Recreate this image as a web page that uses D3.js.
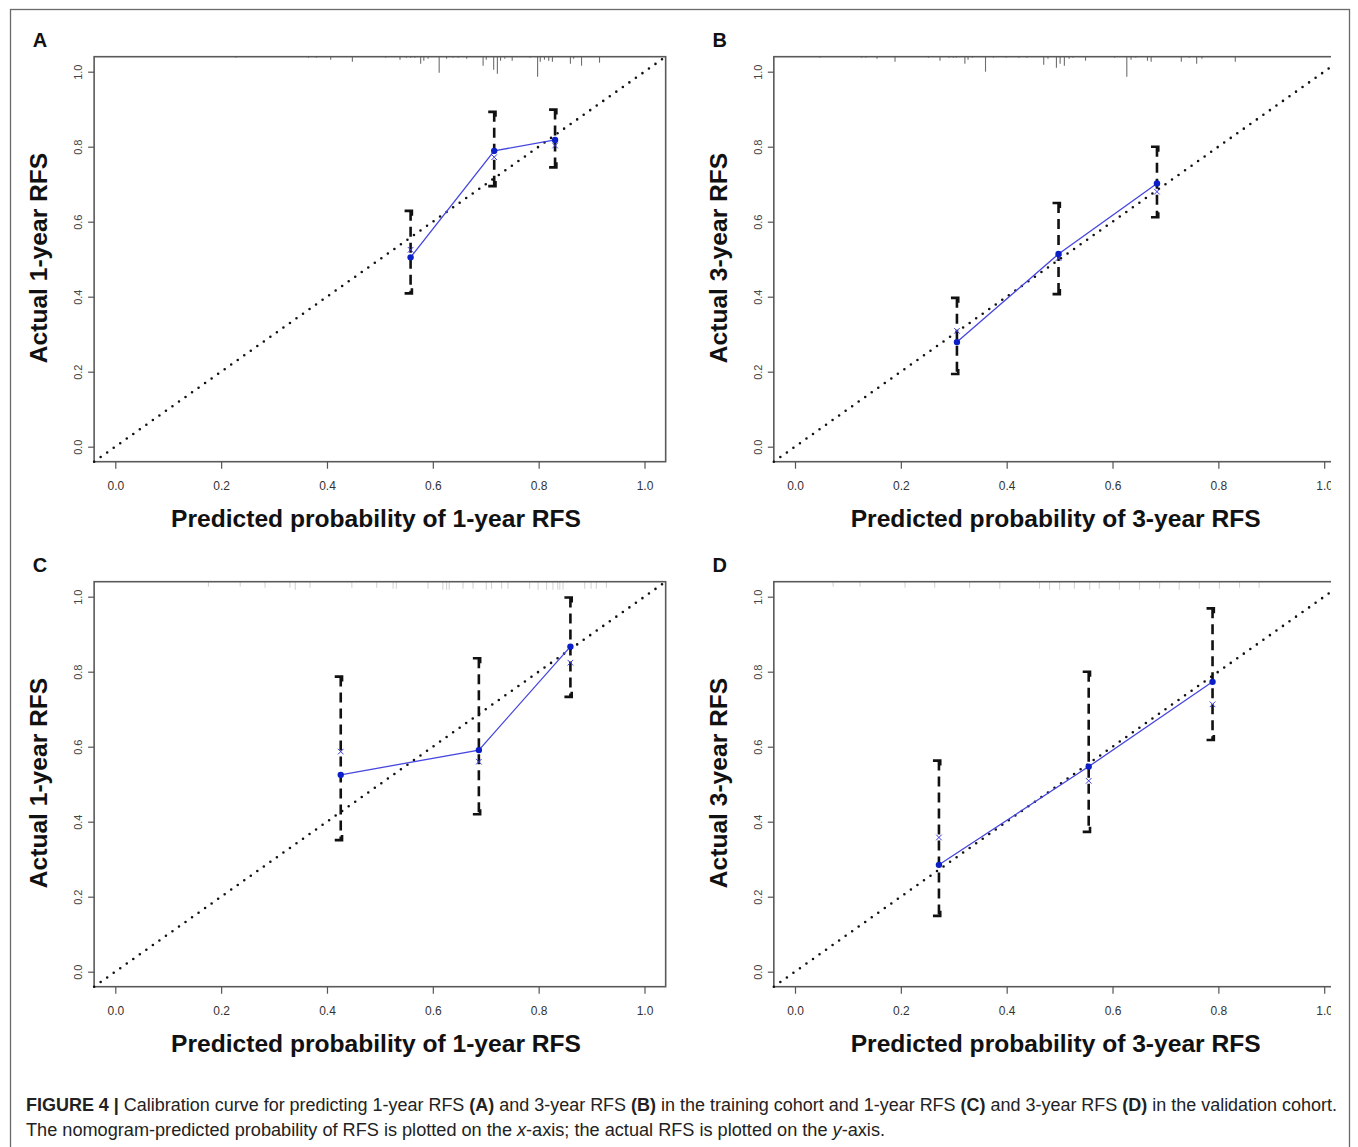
<!DOCTYPE html>
<html>
<head>
<meta charset="utf-8">
<script src="https://cdn.jsdelivr.net/npm/d3@7"></script>
<style>
  body { margin: 0; background: #fff; }
  svg { display: block; }
</style>
</head>
<body>
<div id="viz-container"></div>
<script>
// ticks shared by all four panels
let xTicks = [0, 0.2, 0.4, 0.6, 0.8, 1.0];
let yTicks = [0, 0.2, 0.4, 0.6, 0.8, 1.0];

// panel A: training cohort, 1-year RFS
let predA = [0.558, 0.716, 0.831];
let obsA  = [0.505, 0.789, 0.818];
let corrA = [0.525, 0.772, 0.803];
let loA   = [0.409, 0.695, 0.745];
let hiA   = [0.629, 0.893, 0.899];
let rugXA = [0.228, 0.365, 0.380, 0.407, 0.448, 0.511, 0.538, 0.550, 0.558, 0.566, 0.577, 0.583, 0.591,
             0.612, 0.626, 0.638, 0.648, 0.664, 0.695, 0.701, 0.715, 0.722, 0.728, 0.736, 0.750, 0.784,
             0.798, 0.803, 0.811, 0.819, 0.826, 0.860, 0.866, 0.881, 0.915];
let rugNA = [1, 1, 1, 3, 5, 1, 3, 1, 1, 1, 7, 4, 2,
             16, 2, 1, 1, 2, 9, 3, 13, 17, 4, 2, 4, 1,
             20, 5, 3, 4, 5, 7, 2, 9, 6];

// panel B: training cohort, 3-year RFS
let predB = [0.306, 0.498, 0.684];
let obsB  = [0.279, 0.514, 0.702];
let corrB = [0.309, 0.503, 0.680];
let loB   = [0.194, 0.407, 0.612];
let hiB   = [0.397, 0.650, 0.800];
let rugXB = [0.047, 0.126, 0.134, 0.155, 0.189, 0.252, 0.274, 0.291, 0.299, 0.305, 0.321, 0.327, 0.335,
             0.360, 0.375, 0.399, 0.423, 0.438, 0.470, 0.478, 0.494, 0.501, 0.509, 0.518, 0.525, 0.549,
             0.604, 0.627, 0.635, 0.644, 0.666, 0.673, 0.730, 0.745, 0.759, 0.769, 0.832];
let rugNB = [1, 1, 1, 2, 5, 1, 4, 1, 1, 1, 7, 3, 1,
             15, 1, 1, 1, 1, 8, 2, 11, 7, 9, 2, 1, 4,
             1, 20, 3, 1, 4, 5, 5, 1, 7, 2, 5];

// panel C: validation cohort, 1-year RFS
let predC = [0.426, 0.687, 0.860];
let obsC  = [0.525, 0.591, 0.867];
let corrC = [0.587, 0.560, 0.824];
let loC   = [0.351, 0.420, 0.733];
let hiC   = [0.787, 0.836, 0.998];
let rugXC = [0.176, 0.236, 0.283, 0.330, 0.340, 0.368, 0.447, 0.494, 0.525, 0.531, 0.591, 0.619, 0.626,
             0.631, 0.657, 0.676, 0.701, 0.711, 0.730, 0.742, 0.783, 0.799, 0.815, 0.827, 0.836, 0.840,
             0.846, 0.887, 0.899, 0.909, 0.928];
let rugNC = [5, 5, 6, 6, 8, 6, 6, 6, 7, 7, 7, 8, 8,
             8, 7, 7, 8, 7, 7, 7, 7, 8, 8, 8, 8, 8,
             8, 7, 7, 7, 6];

// panel D: validation cohort, 3-year RFS
let predD = [0.272, 0.555, 0.789];
let obsD  = [0.285, 0.547, 0.773];
let corrD = [0.358, 0.509, 0.713];
let loD   = [0.149, 0.373, 0.618];
let hiD   = [0.563, 0.800, 0.969];
let rugXD = [0.072, 0.123, 0.208, 0.264, 0.330, 0.387, 0.462, 0.481, 0.500, 0.528, 0.557, 0.575, 0.613,
             0.651, 0.689, 0.726, 0.764, 0.802, 0.840, 0.877];
let rugND = [5, 5, 6, 6, 6, 7, 7, 8, 8, 7, 8, 7, 8,
             8, 7, 8, 7, 7, 6, 6];

let W = 1358, H = 1147;

let viz = d3.select("#viz-container")
  .append("svg")
  .attr("width", W)
  .attr("height", H)
  .style("font-family", "'Liberation Sans', Arial, sans-serif");

viz.append("rect").attr("width", W).attr("height", H).attr("fill", "#fff");

// right-hand panels are cut off in the original image
viz.append("clipPath").attr("id", "cutRight")
  .append("rect").attr("x", 0).attr("y", 0).attr("width", 1331).attr("height", H);

// outer figure border
viz.append("rect")
  .attr("x", 10.5).attr("y", 9.5)
  .attr("width", 1339).attr("height", 1160)
  .attr("fill", "none").attr("stroke", "#6a6a6a").attr("stroke-width", 1.3);

function drawPanel(cfg) {
  let outer = viz.append("g");
  if (cfg.clip) outer.attr("clip-path", "url(#cutRight)");
  let g = outer.append("g").attr("transform", "translate(" + cfg.ox + "," + cfg.oy + ")");

  let x = d3.scaleLinear().domain([0, 1]).range([115.3, 644.5]);
  let y = d3.scaleLinear().domain([0, 1]).range([446.7, 71.7]);
  let rugLen = d3.scaleLinear().domain([0, 20]).range([0, 20]);

  // rug of predicted risk along the top
  let rug = cfg.rugX.map(function(v, i) { return { p: v, n: cfg.rugN[i] }; });
  g.selectAll("line.rug").data(rug).enter().append("line")
    .attr("class", "rug")
    .attr("x1", function(d) { return x(d.p); })
    .attr("x2", function(d) { return x(d.p); })
    .attr("y1", y(1.04))
    .attr("y2", function(d) { return y(1.04) + rugLen(d.n); })
    .attr("stroke", cfg.rugColor)
    .attr("stroke-width", 1.1);

  // frame
  g.append("rect")
    .attr("x", x(-0.04)).attr("y", y(1.04))
    .attr("width", x(1.04) - x(-0.04)).attr("height", y(-0.04) - y(1.04))
    .attr("fill", "none").attr("stroke", "#5a5a5a").attr("stroke-width", 1.6);

  // x axis
  let xa = g.append("g")
    .attr("transform", "translate(0," + y(-0.04) + ")")
    .call(d3.axisBottom(x).tickValues(xTicks).tickSize(7).tickPadding(13).tickFormat(d3.format(".1f")));
  xa.select(".domain").remove();
  xa.selectAll("line").attr("stroke", "#555").attr("stroke-width", 1.2);
  xa.selectAll("text")
    .attr("fill", "#333")
    .style("font-family", "'Liberation Sans Narrow', 'Arial Narrow', sans-serif")
    .style("font-size", "12px");

  // y axis with rotated labels
  let ya = g.append("g")
    .attr("transform", "translate(" + x(-0.04) + ",0)")
    .call(d3.axisLeft(y).tickValues(yTicks).tickSize(6).tickFormat(d3.format(".1f")));
  ya.select(".domain").remove();
  ya.selectAll("line").attr("stroke", "#555").attr("stroke-width", 1.2);
  ya.selectAll("text")
    .attr("x", null).attr("dy", null)
    .attr("transform", "translate(-12,0) rotate(-90)")
    .attr("text-anchor", "middle")
    .attr("fill", "#444")
    .style("font-size", "11px");

  // ideal reference line
  g.append("line")
    .attr("x1", x(-0.04)).attr("y1", y(-0.04))
    .attr("x2", x(1.04)).attr("y2", y(1.04))
    .attr("stroke", "#111").attr("stroke-width", 2.6)
    .attr("stroke-linecap", "round")
    .attr("stroke-dasharray", "0,8");

  let pts = cfg.pred.map(function(p, i) {
    return { p: p, o: cfg.obs[i], c: cfg.corr[i], lo: cfg.lo[i], hi: cfg.hi[i] };
  });

  // error bars
  g.selectAll("line.bar").data(pts).enter().append("line")
    .attr("class", "bar")
    .attr("x1", function(d) { return x(d.p); })
    .attr("x2", function(d) { return x(d.p); })
    .attr("y1", function(d) { return y(d.hi); })
    .attr("y2", function(d) { return y(d.lo); })
    .attr("stroke", "#111").attr("stroke-width", 2.6)
    .attr("stroke-dasharray", "10,6");
  g.selectAll("path.capHi").data(pts).enter().append("path")
    .attr("d", function(d) { return "M" + (x(d.p) - 6) + "," + y(d.hi) + "H" + (x(d.p) + 1.3) + "V" + (y(d.hi) + 5); })
    .attr("fill", "none").attr("stroke", "#111").attr("stroke-width", 2.6);
  g.selectAll("path.capLo").data(pts).enter().append("path")
    .attr("d", function(d) { return "M" + (x(d.p) - 6) + "," + y(d.lo) + "H" + (x(d.p) + 1.3) + "V" + (y(d.lo) - 5); })
    .attr("fill", "none").attr("stroke", "#111").attr("stroke-width", 2.6);

  // observed calibration line
  let line = d3.line().x(function(d) { return x(d.p); }).y(function(d) { return y(d.o); });
  g.append("path").datum(pts)
    .attr("d", line)
    .attr("fill", "none").attr("stroke", "#4646e0").attr("stroke-width", 1.3);

  // bias-corrected estimates
  g.selectAll("path.xmark").data(pts).enter().append("path")
    .attr("transform", function(d) { return "translate(" + x(d.p) + "," + y(d.c) + ")"; })
    .attr("d", d3.symbol(d3.symbolX, 22))
    .attr("fill", "none").attr("stroke", "#3b3bd8").attr("stroke-width", 1);

  g.selectAll("circle.obs").data(pts).enter().append("circle")
    .attr("cx", function(d) { return x(d.p); })
    .attr("cy", function(d) { return y(d.o); })
    .attr("r", 3.2)
    .attr("fill", "#0a1fc8");

  // titles
  g.append("text")
    .attr("x", 376).attr("y", 527)
    .attr("text-anchor", "middle")
    .style("font-weight", "bold").style("font-size", "24.6px")
    .attr("fill", "#111")
    .text(cfg.xTitle);
  g.append("text")
    .attr("transform", "translate(47," + 258 + ") rotate(-90)")
    .attr("text-anchor", "middle")
    .style("font-weight", "bold").style("font-size", "24.6px")
    .attr("fill", "#111")
    .text(cfg.yTitle);
  g.append("text")
    .attr("x", 40).attr("y", 47)
    .attr("text-anchor", "middle")
    .style("font-weight", "bold").style("font-size", "20px")
    .attr("fill", "#111")
    .text(cfg.letter);
}

drawPanel({ letter: "A", ox: 0, oy: 0, pred: predA, obs: obsA, corr: corrA, lo: loA, hi: hiA,
  rugX: rugXA, rugN: rugNA, rugColor: "#6e6e6e", clip: false,
  xTitle: "Predicted probability of 1-year RFS", yTitle: "Actual 1-year RFS" });
drawPanel({ letter: "B", ox: 679.7, oy: 0, pred: predB, obs: obsB, corr: corrB, lo: loB, hi: hiB,
  rugX: rugXB, rugN: rugNB, rugColor: "#6e6e6e", clip: true,
  xTitle: "Predicted probability of 3-year RFS", yTitle: "Actual 3-year RFS" });
drawPanel({ letter: "C", ox: 0, oy: 525, pred: predC, obs: obsC, corr: corrC, lo: loC, hi: hiC,
  rugX: rugXC, rugN: rugNC, rugColor: "#d4d4d4", clip: false,
  xTitle: "Predicted probability of 1-year RFS", yTitle: "Actual 1-year RFS" });
drawPanel({ letter: "D", ox: 679.7, oy: 525, pred: predD, obs: obsD, corr: corrD, lo: loD, hi: hiD,
  rugX: rugXD, rugN: rugND, rugColor: "#d4d4d4", clip: true,
  xTitle: "Predicted probability of 3-year RFS", yTitle: "Actual 3-year RFS" });

// caption
let cap1 = viz.append("text")
  .attr("x", 26).attr("y", 1111)
  .attr("textLength", 1311).attr("lengthAdjust", "spacingAndGlyphs")
  .style("font-size", "17.5px").attr("fill", "#222");
cap1.append("tspan").style("font-weight", "bold").text("FIGURE 4 | ");
cap1.append("tspan").text("Calibration curve for predicting 1-year RFS ");
cap1.append("tspan").style("font-weight", "bold").text("(A)");
cap1.append("tspan").text(" and 3-year RFS ");
cap1.append("tspan").style("font-weight", "bold").text("(B)");
cap1.append("tspan").text(" in the training cohort and 1-year RFS ");
cap1.append("tspan").style("font-weight", "bold").text("(C)");
cap1.append("tspan").text(" and 3-year RFS ");
cap1.append("tspan").style("font-weight", "bold").text("(D)");
cap1.append("tspan").text(" in the validation cohort.");

let cap2 = viz.append("text")
  .attr("x", 26).attr("y", 1136)
  .attr("textLength", 859).attr("lengthAdjust", "spacingAndGlyphs")
  .style("font-size", "17.5px").attr("fill", "#222");
cap2.append("tspan").text("The nomogram-predicted probability of RFS is plotted on the ");
cap2.append("tspan").style("font-style", "italic").text("x");
cap2.append("tspan").text("-axis; the actual RFS is plotted on the ");
cap2.append("tspan").style("font-style", "italic").text("y");
cap2.append("tspan").text("-axis.");
</script>
</body>
</html>
